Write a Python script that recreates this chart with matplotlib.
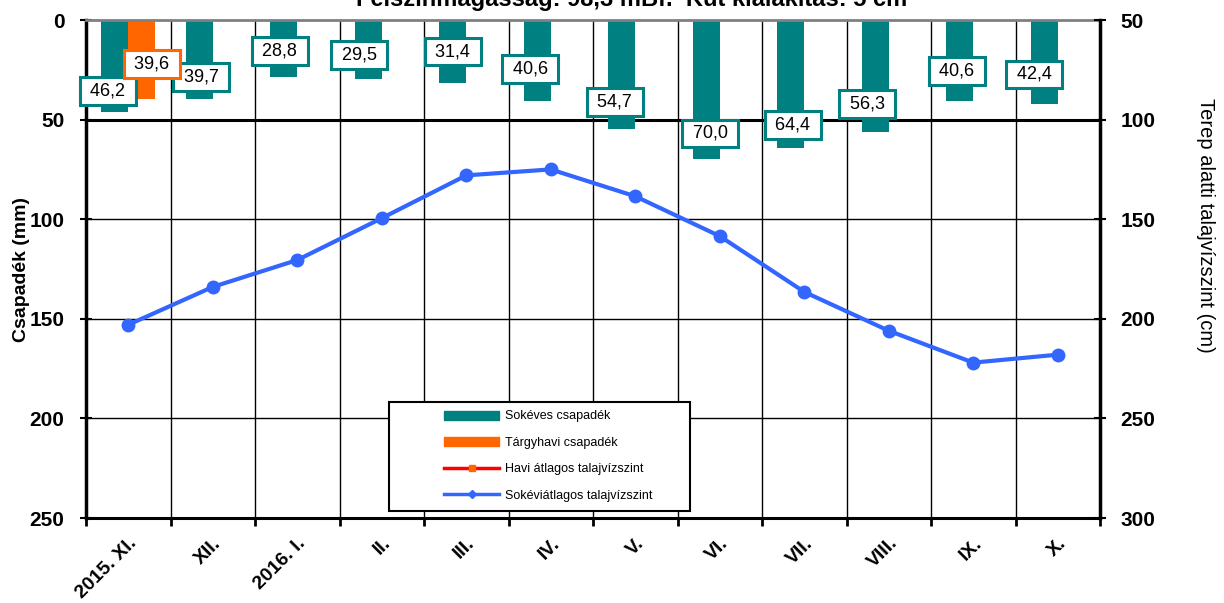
import numpy as np
import matplotlib
matplotlib.use("Agg")
import matplotlib.pyplot as plt
from matplotlib.lines import Line2D
from matplotlib.patches import Patch, Rectangle

plt.rcParams['font.family'] = ['Liberation Sans', 'DejaVu Sans']

# havi adatok
honapok = ['2015. XI.', 'XII.', '2016. I.', 'II.', 'III.', 'IV.',
           'V.', 'VI.', 'VII.', 'VIII.', 'IX.', 'X.']
sokeves_csapadek = [46.2, 39.7, 28.8, 29.5, 31.4, 40.6, 54.7, 70.0, 64.4, 56.3, 40.6, 42.4]
targyhavi_csapadek = [39.6] + [np.nan] * 11
havi_talajviz = [np.nan] * 12
sokevi_talajviz = [203, 184, 170.5, 149.5, 128, 125, 138.5, 158.5, 186.5, 206, 222, 218]

# címkék eltolása (pixel)
felirat_dx = [-7, 2, -4, -9, 0, -7, -7, 4, 2, -8, -3, -10]
felirat_dy = [21, 22, 26, 24, 31, 32, 27, 26, 23, 28, 30, 30]

teal = '#008080'
narancs = '#ff6600'
kek = '#3366ff'

fig = plt.figure(figsize=(12.24, 6.03), dpi=100)
ax = fig.add_axes([86 / 1224, 1 - 518 / 603, (1100 - 86) / 1224, 498 / 603])

x = np.arange(len(honapok))
w = 0.32
ax.bar(x - w / 2, sokeves_csapadek, w, color=teal, zorder=2)
ax.bar(x + w / 2, targyhavi_csapadek, w, color=narancs, zorder=2)

ax.set_xlim(-0.5, 11.5)
ax.set_ylim(250, 0)

def felirat(xp, v, dx, dy, szin):
    ax.annotate(' ' + f'{v:.1f}'.replace('.', ',') + ' ', xy=(xp, v),
                xytext=(dx, dy), textcoords='offset pixels',
                ha='center', va='center', fontsize=13, zorder=5,
                bbox=dict(boxstyle='square,pad=0.3', fc='white', ec=szin, lw=2.2))

for i, v in enumerate(sokeves_csapadek):
    felirat(x[i] - w / 2, v, felirat_dx[i], felirat_dy[i], teal)
for i, v in enumerate(targyhavi_csapadek):
    if not np.isnan(v):
        felirat(x[i] + w / 2, v, 10, 35, narancs)

# rács
ax.set_yticks(np.arange(0, 251, 50))
ax.set_xticks(x)
ax.set_xticks(np.arange(-0.5, 12, 1), minor=True)
ax.grid(axis='x', which='minor', color='black', lw=1, zorder=1)
for yv in (100, 150, 200):
    ax.axhline(yv, color='black', lw=1, zorder=1)
ax.axhline(50, color='black', lw=2.2, zorder=1)

ax.tick_params(axis='y', direction='inout', length=9, width=1.5, labelsize=15, pad=11)
ax.tick_params(axis='x', which='major', length=0, labelsize=14, pad=12)
ax.tick_params(axis='x', which='minor', direction='out', length=6, width=2)
ax.set_xticklabels(honapok, rotation=45, ha='right', rotation_mode='anchor',
                   fontweight='bold')
for t in ax.get_yticklabels():
    t.set_fontweight('bold')

ax.spines['left'].set_linewidth(2.5)
ax.spines['bottom'].set_linewidth(2.2)
ax.spines['top'].set_color('#808080')
ax.spines['top'].set_linewidth(2)
ax.spines['right'].set_visible(False)

# talajvízszint a jobb tengelyen
ax2 = ax.twinx()
ax2.set_ylim(300, 50)
ax2.set_yticks(np.arange(50, 301, 50))
ax2.plot(x, havi_talajviz, color='red', lw=3, marker='o', ms=9)
ax2.plot(x, sokevi_talajviz, color=kek, lw=3, marker='o', ms=9, zorder=3)
ax2.tick_params(axis='y', direction='inout', length=9, width=1.5, labelsize=15, pad=10)
for t in ax2.get_yticklabels():
    t.set_fontweight('bold')
for s in ('left', 'bottom', 'top'):
    ax2.spines[s].set_visible(False)
ax2.spines['right'].set_linewidth(2.5)

# jelmagyarázat kerete
ax2.add_patch(Rectangle((303 / 1014, 7 / 498), 301 / 1014, 109 / 498,
                        transform=ax2.transAxes, fc='white', ec='black', lw=1.5,
                        zorder=6))
kezelok = [
    Patch(color=teal),
    Patch(color=narancs),
    Line2D([], [], color='red', lw=2.5, marker='s', ms=4, mfc=narancs, mec=narancs),
    Line2D([], [], color=kek, lw=2.5, marker='D', ms=4),
]
cimkek = ['Sokéves csapadék', 'Tárgyhavi csapadék',
          'Havi átlagos talajvízszint', 'Sokéviátlagos talajvízszint']
leg = ax2.legend(kezelok, cimkek, loc='center left',
                 bbox_to_anchor=(358 / 1014, 62 / 498),
                 fontsize=9, labelspacing=1.15, handlelength=4.4, handleheight=0.75,
                 handletextpad=0.45, borderpad=0, borderaxespad=0,
                 frameon=False)
leg.set_zorder(7)

fig.text(22 / 1224, 1 - 270 / 603, 'Csapadék (mm)', rotation=90,
         ha='center', va='center', fontsize=14, fontweight='bold')
fig.text(1206 / 1224, 1 - 225 / 603, 'Terep alatti talajvízszint (cm)', rotation=270,
         ha='center', va='center', fontsize=14.5)
fig.text(632 / 1224, 1 - 6 / 603, 'Felszínmagasság: 98,3 mBf.  Kút kialakítás: 5 cm',
         ha='center', va='baseline', fontsize=17, fontweight='bold')

fig.savefig('out.png', dpi=100)
